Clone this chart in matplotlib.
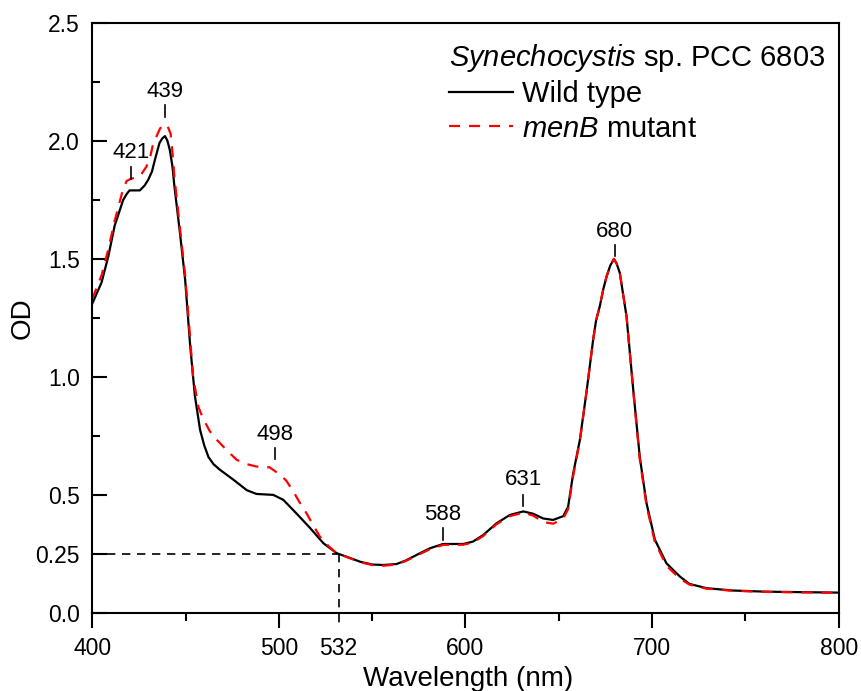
import matplotlib.pyplot as plt
from matplotlib.ticker import MultipleLocator

plt.rcParams['font.family'] = ['Liberation Sans', 'DejaVu Sans']
plt.rcParams['mathtext.fontset'] = 'custom'
plt.rcParams['mathtext.rm'] = 'Liberation Sans'
plt.rcParams['mathtext.it'] = 'Liberation Sans:italic'

# wild type spectrum (nm, OD)
wt_nm = [400, 405, 408.6, 412, 416.6, 418.5, 420, 423, 425.5, 428, 430, 432, 433.6, 436, 437.5,
         439, 440.3, 441.6, 443, 444, 447,
         449.8, 452.5, 455, 457.8, 460, 462.3, 465, 468.5, 475.7, 482.8, 488, 497, 502.4, 509.6,
         516.7, 523.9, 531, 538, 543.5, 550, 556, 563, 568, 573.9, 581, 588, 598.8, 604,
         609.5, 616.7, 623.8, 631, 636.3, 641.7, 647, 652.4, 655, 657.7, 661.3, 665,
         668.4, 670, 672, 673.8, 675.6, 677.5, 679.5, 681, 682.7, 686.3, 689.9, 693.4, 697,
         701.5, 707.7, 714.9, 720, 729, 743, 761, 780, 800]
wt_od = [1.31, 1.40, 1.51, 1.64, 1.75, 1.775, 1.79, 1.79, 1.79, 1.81, 1.835, 1.87, 1.92, 1.99, 2.01,
         2.02, 2.00, 1.96, 1.89, 1.81, 1.61,
         1.41, 1.13, 0.92, 0.775, 0.71, 0.66, 0.63, 0.606, 0.564, 0.52, 0.504, 0.50, 0.479, 0.42,
         0.36, 0.295, 0.253, 0.233, 0.217, 0.205, 0.203, 0.207, 0.222, 0.246, 0.274, 0.292, 0.292, 0.302,
         0.33, 0.38, 0.415, 0.43, 0.42, 0.40, 0.394, 0.41, 0.45, 0.59, 0.733, 0.945,
         1.157, 1.24, 1.30, 1.37, 1.425, 1.47, 1.499, 1.48, 1.44, 1.256, 0.945, 0.66, 0.465,
         0.31, 0.21, 0.154, 0.123, 0.105, 0.095, 0.09, 0.088, 0.086]

# menB mutant spectrum
mb_nm = [400, 405, 408.6, 412, 414, 416, 418.4, 421, 424, 426.4, 429, 431, 432.7, 434.5, 436.2,
         437.5, 439, 440.5, 442, 443, 444, 447,
         449.8, 452.5, 454, 457, 459.6, 463, 466.8, 472, 477.5, 483, 488, 495, 500.7, 504,
         507.8, 511, 515, 518.5, 522, 527, 531, 538, 543.5, 550, 556, 563, 568, 573.9, 581,
         588, 598.8, 604, 609.5, 616.7, 623.8, 631, 636.3, 641.7, 647, 652.4, 655, 657.7,
         661.3, 665, 668.4, 670, 672, 673.8, 675.6, 677.5, 679.5, 681, 682.7, 686.3, 689.9,
         693.4, 697, 701.5, 707.7, 714.9, 720, 729, 743, 761, 780, 800]
mb_od = [1.33, 1.43, 1.54, 1.66, 1.72, 1.78, 1.83, 1.84, 1.845, 1.86, 1.89, 1.93, 1.99, 2.02, 2.05,
         2.065, 2.07, 2.06, 2.03, 1.95, 1.85, 1.63,
         1.43, 1.16, 1.00, 0.87, 0.82, 0.77, 0.733, 0.69, 0.648, 0.63, 0.62, 0.617, 0.585, 0.56,
         0.514, 0.47, 0.42, 0.37, 0.323, 0.28, 0.253, 0.232, 0.215, 0.203, 0.200, 0.205, 0.220, 0.243, 0.270,
         0.288, 0.289, 0.298, 0.326, 0.376, 0.41, 0.425, 0.412, 0.385, 0.378, 0.40, 0.44, 0.58,
         0.73, 0.945, 1.157, 1.24, 1.30, 1.37, 1.425, 1.47, 1.50, 1.48, 1.44, 1.256, 0.94,
         0.65, 0.455, 0.30, 0.20, 0.145, 0.12, 0.103, 0.094, 0.089, 0.087, 0.085]

# peak labels: wavelength, label y, tick top/bottom
peak_nm = [421, 439, 498, 588, 631, 680]
peak_text_y = [1.95, 2.21, 0.755, 0.415, 0.565, 1.615]
peak_tick_y = [(1.89, 1.84), (2.15, 2.10), (0.70, 0.65), (0.36, 0.31), (0.50, 0.455), (1.56, 1.51)]

xtick_vals = [400, 500, 532, 600, 700, 800]
ytick_vals = [0.0, 0.25, 0.5, 1.0, 1.5, 2.0, 2.5]
ytick_labels = ['0.0', '0.25', '0.5', '1.0', '1.5', '2.0', '2.5']

fig = plt.figure(figsize=(8.62, 6.91), dpi=100)
ax = fig.add_axes([0.107, 0.113, 0.866, 0.854])

ax.plot(wt_nm, wt_od, '-', color='black', lw=1.6, label='Wild type')
ax.plot(mb_nm, mb_od, '--', color='red', lw=1.6, dashes=(5, 4), label='$\\it{menB}$ mutant')

# guide lines at 532 nm / 0.25
ax.plot([400, 532], [0.25, 0.25], '--', color='black', lw=1.2, dashes=(5, 4))
ax.plot([532, 532], [0.25, -0.055], '--', color='black', lw=1.2, dashes=(5, 4), clip_on=False)

for nm, ty, (t0, t1) in zip(peak_nm, peak_text_y, peak_tick_y):
    ax.plot([nm, nm], [t0, t1], color='black', lw=1.2)
    ax.text(nm, ty, str(nm), ha='center', va='center', fontsize=16)

ax.set_xlim(400, 800)
ax.set_ylim(0, 2.5)
ax.set_xticks(xtick_vals)
ax.set_xticklabels([str(v) for v in xtick_vals])
ax.xaxis.set_minor_locator(MultipleLocator(50))
ax.set_yticks(ytick_vals)
ax.set_yticklabels(ytick_labels)
ax.yaxis.set_minor_locator(MultipleLocator(0.25))
ax.xaxis.get_major_ticks()[2].tick1line.set_visible(False)

ax.tick_params(axis='x', which='major', direction='out', length=11, width=1.5, labelsize=16.5, pad=6)
ax.tick_params(axis='x', which='minor', direction='out', length=6, width=1.5)
ax.tick_params(axis='y', which='major', direction='in', length=11, width=1.5, labelsize=16.5, pad=9)
ax.tick_params(axis='y', which='minor', direction='in', length=6, width=1.5)
ax.tick_params(top=False, right=False, which='both')
for s in ax.spines.values():
    s.set_linewidth(1.5)

ax.set_xlabel('Wavelength (nm)', fontsize=20)
ax.xaxis.set_label_coords(0.504, -0.09)
ax.set_ylabel('OD', fontsize=20)
ax.yaxis.set_label_coords(-0.076, 0.5)

leg = ax.legend(loc='upper left', bbox_to_anchor=(0.478, 0.968), frameon=False, fontsize=21,
                handlelength=2.2, handletextpad=0.3, labelspacing=0.22, borderaxespad=0,
                borderpad=0, title='$\\it{Synechocystis}$ sp. PCC 6803', title_fontsize=21)
leg._legend_box.align = 'left'

fig.savefig('out.png', dpi=100)
